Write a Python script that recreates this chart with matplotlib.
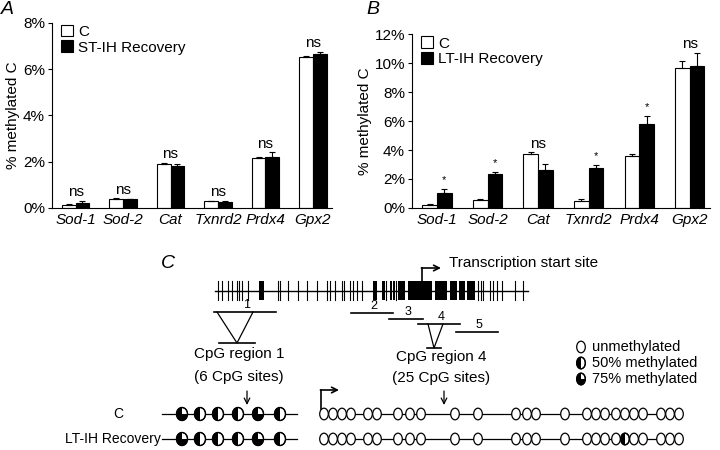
import numpy as np
import matplotlib.pyplot as plt
from matplotlib.patches import Ellipse, Wedge, Rectangle
from matplotlib.transforms import Affine2D

plt.rcParams['font.family'] = ['Liberation Sans', 'DejaVu Sans']

# bar data
genes = ['Sod-1', 'Sod-2', 'Cat', 'Txnrd2', 'Prdx4', 'Gpx2']
a_ctrl = [0.14, 0.39, 1.90, 0.29, 2.18, 6.52]
a_ctrl_err = [0.02, 0.02, 0.03, 0.02, 0.04, 0.03]
a_st = [0.23, 0.37, 1.83, 0.26, 2.22, 6.66]
a_st_err = [0.06, 0.03, 0.07, 0.03, 0.18, 0.07]
a_sig = ['ns', 'ns', 'ns', 'ns', 'ns', 'ns']

b_ctrl = [0.23, 0.57, 3.70, 0.50, 3.56, 9.66]
b_ctrl_err = [0.06, 0.04, 0.13, 0.12, 0.14, 0.46]
b_lt = [1.03, 2.32, 2.64, 2.74, 5.82, 9.78]
b_lt_err = [0.28, 0.16, 0.37, 0.25, 0.55, 0.92]
b_sig = ['*', '*', 'ns', '*', '*', 'ns']

# panel C schematic (pixel positions of the drawing)
site_x = [218, 222, 228, 232, 237, 239, 242, 248, 278, 280, 288, 298, 307, 317,
          327, 330, 335, 342, 344, 350, 353, 357, 362, 386, 396, 478, 481, 483,
          490, 493, 497, 502, 515, 523]
site_blocks = [(259, 264), (373, 376.5), (382, 385), (390, 392), (393, 395),
               (397.5, 405), (408, 432), (435, 447), (450, 457), (459, 465),
               (467, 475)]
regions = ['1', '2', '3', '4', '5']
region_start = [214, 351, 389, 418, 456]
region_end = [276, 393, 423, 460, 498]
region_y = [312, 313, 319, 324, 332]

r1_x = [182, 200, 218, 238, 258, 280]
r1_ctrl = [75, 50, 50, 50, 75, 50]
r1_lt = [75, 50, 50, 50, 75, 50]
r4_x = [324, 333, 342, 351, 368, 377, 398, 410, 421, 455, 478, 516, 527, 536,
        565, 587, 596, 605, 616, 625, 634, 643, 661, 670, 679]
r4_ctrl = [0] * 25
r4_lt = [0] * 19 + [50] + [0] * 5


def bar_panel(ax, ctrl, ctrl_err, trt, trt_err, sig, ymax, step, label):
    x = np.arange(len(genes))
    w = 0.29
    ax.bar(x - w / 2, ctrl, w, color='white', edgecolor='black', linewidth=0.8, label='C')
    ax.bar(x + w / 2, trt, w, color='black', edgecolor='black', linewidth=0.8, label=label)
    ax.errorbar(x - w / 2, ctrl, yerr=[np.zeros(len(x)), ctrl_err], fmt='none',
                ecolor='black', elinewidth=0.8, capsize=2, capthick=0.8)
    ax.errorbar(x + w / 2, trt, yerr=[np.zeros(len(x)), trt_err], fmt='none',
                ecolor='black', elinewidth=0.8, capsize=2, capthick=0.8)
    for i, s in enumerate(sig):
        top = max(ctrl[i] + ctrl_err[i], trt[i] + trt_err[i])
        if s == '*':
            ax.text(x[i] + w / 2, trt[i] + trt_err[i] + ymax * 0.02, s,
                    ha='center', va='bottom', fontsize=8)
        else:
            ax.text(x[i], top + ymax * 0.01, s, ha='center', va='bottom', fontsize=11)
    ax.set_ylim(0, ymax)
    ax.set_xlim(-0.5, len(x) - 0.6)
    ax.set_yticks(np.arange(0, ymax + 0.01, step))
    ax.set_yticklabels(['%d%%' % v for v in np.arange(0, ymax + 0.01, step)], fontsize=11)
    ax.set_xticks(x)
    ax.set_xticklabels(genes, fontsize=11, style='italic')
    ax.tick_params(axis='x', length=0, pad=4)
    ax.tick_params(axis='y', length=3, width=0.8, pad=2)
    for sp in ['top', 'right']:
        ax.spines[sp].set_visible(False)
    ax.spines['left'].set_linewidth(0.8)
    ax.spines['bottom'].set_linewidth(0.8)
    ax.set_ylabel('% methylated C', fontsize=11, labelpad=2)
    ax.legend(loc='upper left', bbox_to_anchor=(0.0, 1.04), frameon=False, fontsize=11,
              handlelength=0.8, handleheight=0.8, handletextpad=0.3, labelspacing=0.1,
              borderaxespad=0.2)


fig = plt.figure(figsize=(7.2, 4.5), dpi=100)
ax_a = fig.add_axes([0.072, 0.538, 0.389, 0.411])
ax_b = fig.add_axes([0.572, 0.538, 0.414, 0.386])
bar_panel(ax_a, a_ctrl, a_ctrl_err, a_st, a_st_err, a_sig, 8, 2, 'ST-IH Recovery')
bar_panel(ax_b, b_ctrl, b_ctrl_err, b_lt, b_lt_err, b_sig, 12, 2, 'LT-IH Recovery')

# overlay in pixel units for the schematic
ov = fig.add_axes([0, 0, 1, 1], zorder=-1)
ov.set_xlim(0, 720)
ov.set_ylim(450, 0)
ov.axis('off')

ov.text(7, 10, 'A', fontsize=14, style='italic', ha='center', va='center')
ov.text(373, 10, 'B', fontsize=14, style='italic', ha='center', va='center')
ov.text(168, 263, 'C', fontsize=14, style='italic', ha='center', va='center')

# gene map
ov.plot([215, 528], [291, 291], color='black', lw=1)
for sx in site_x:
    ov.plot([sx, sx], [281, 300], color='black', lw=0.8)
for b0, b1 in site_blocks:
    ov.add_patch(Rectangle((b0, 281), b1 - b0, 19, color='black', lw=0))
ov.plot([422, 422], [281, 268], color='black', lw=1.2)
ov.annotate('', xy=(441, 268), xytext=(421.4, 268),
            arrowprops=dict(arrowstyle='->', lw=1.2, color='black', shrinkA=0, shrinkB=0))
ov.text(449, 263, 'Transcription start site', fontsize=11, ha='left', va='center')

for lab, x0, x1, y in zip(regions, region_start, region_end, region_y):
    ov.plot([x0, x1], [y, y], color='black', lw=1.2)
    ov.text((x0 + x1) / 2 + 2, y - 1, lab, fontsize=9, ha='center', va='bottom')

# zoom triangles
ov.plot([217, 237, 253], [312, 343, 312], color='black', lw=0.9)
ov.plot([219, 255], [343, 343], color='black', lw=1.2)
ov.plot([428, 434, 443], [324, 348, 324], color='black', lw=0.9)
ov.plot([427, 441], [348, 348], color='black', lw=1.2)

ov.text(239, 354, 'CpG region 1', fontsize=11, ha='center', va='center')
ov.text(239, 377, '(6 CpG sites)', fontsize=11, ha='center', va='center')
ov.text(441, 357, 'CpG region 4', fontsize=11, ha='center', va='center')
ov.text(441, 378, '(25 CpG sites)', fontsize=11, ha='center', va='center')
for ax_x in [247, 444]:
    ov.annotate('', xy=(ax_x, 405), xytext=(ax_x, 391),
                arrowprops=dict(arrowstyle='->', lw=0.9, color='black', shrinkA=0, shrinkB=0))

# lower transcription start arrow
ov.plot([321, 321], [409, 390], color='black', lw=1.2)
ov.annotate('', xy=(339, 390), xytext=(320.4, 390),
            arrowprops=dict(arrowstyle='->', lw=1.2, color='black', shrinkA=0, shrinkB=0))


def cpg(x, y, pct, rx, ry):
    ov.add_patch(Ellipse((x, y), 2 * rx, 2 * ry, facecolor='white', edgecolor='black',
                         lw=0.9, zorder=3))
    if pct > 0:
        # y axis is inverted: 0..90 deg points to the lower right
        t1, t2 = (90, 270) if pct == 50 else (0, 270)
        tr = Affine2D().scale(rx, ry).translate(x, y) + ov.transData
        ov.add_patch(Wedge((0, 0), 1, t1, t2, facecolor='black', edgecolor='none',
                           transform=tr, zorder=4))
        ov.add_patch(Ellipse((x, y), 2 * rx, 2 * ry, facecolor='none', edgecolor='black',
                             lw=0.9, zorder=5))


rows_y = [414, 439]
ov.text(118, rows_y[0], 'C', fontsize=10, ha='center', va='center')
ov.text(161, rows_y[1], 'LT-IH Recovery', fontsize=10, ha='right', va='center')
for y, r1, r4 in zip(rows_y, [r1_ctrl, r1_lt], [r4_ctrl, r4_lt]):
    ov.plot([162, 297], [y, y], color='black', lw=0.9, zorder=2)
    ov.plot([r4_x[0], r4_x[-1]], [y, y], color='black', lw=0.9, zorder=2)
    for x, p in zip(r1_x, r1):
        cpg(x, y, p, 5.5, 6.5)
    for x, p in zip(r4_x, r4):
        cpg(x, y, p, 4.3, 5.8)

# methylation key
key_labels = ['unmethylated', '50% methylated', '75% methylated']
key_pct = [0, 50, 75]
key_y = [347, 363, 379]
for lab, p, y in zip(key_labels, key_pct, key_y):
    cpg(581, y, p, 4.3, 5.8)
    ov.text(592, y, lab, fontsize=10.5, ha='left', va='center')

fig.savefig('out.png', dpi=100)
